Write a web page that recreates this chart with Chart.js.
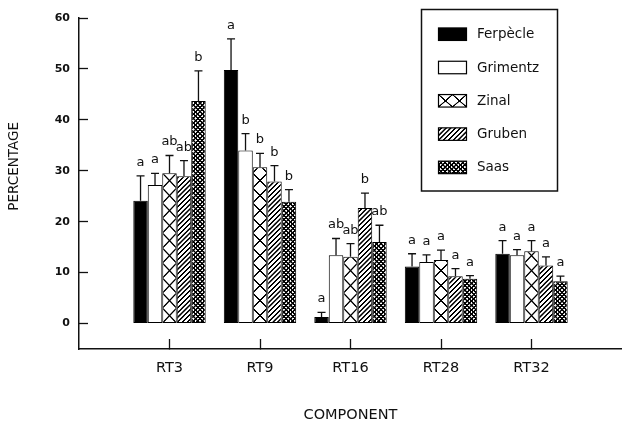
<!DOCTYPE html>
<html>
<head>
<meta charset="utf-8">
<script src="https://cdn.jsdelivr.net/npm/chart.js@4.4.1/dist/chart.umd.min.js"></script>
<style>
  html, body { margin: 0; padding: 0; background: #fff; }
</style>
</head>
<body>
<canvas id="barChart" width="622" height="424"></canvas>
<script>
// data
const categories = ['RT3', 'RT9', 'RT16', 'RT28', 'RT32'];
const siteNames = ['Ferpècle', 'Grimentz', 'Zinal', 'Gruben', 'Saas'];

const ferpecle = [24.1, 49.8, 1.3, 11.2, 13.7];
const grimentz = [27.2, 34.0, 13.4, 12.1, 13.4];
const zinal    = [29.5, 30.7, 13.1, 12.5, 14.2];
const gruben   = [28.9, 27.9, 22.7, 9.3, 11.4];
const saas     = [43.7, 23.9, 16.0, 8.8, 8.3];

// upper error (SE) above each bar
const ferpecleErr = [4.9, 6.1, 0.9, 2.5, 2.6];
const grimentzErr = [2.3, 3.3, 3.3, 1.4, 1.1];
const zinalErr    = [3.5, 2.7, 2.6, 1.9, 2.1];
const grubenErr   = [3.1, 3.1, 2.9, 1.5, 1.7];
const saasErr     = [5.9, 2.4, 3.3, 0.6, 1.0];

// significance letters
const ferpecleSig = ['a', 'a', 'a', 'a', 'a'];
const grimentzSig = ['a', 'b', 'ab', 'a', 'a'];
const zinalSig    = ['ab', 'b', 'ab', 'a', 'a'];
const grubenSig   = ['ab', 'b', 'b', 'a', 'a'];
const saasSig     = ['b', 'b', 'ab', 'a', 'a'];

const yTickValues = [0, 10, 20, 30, 40, 50, 60];

const FONT = "'DejaVu Sans', sans-serif";
const INK = '#111';

// empty slot on each side so the first/last group sit one step in from the axes
const labels = ['', ...categories, ''];
const pad = arr => [null, ...arr, null];

const ctx = document.getElementById('barChart').getContext('2d');

// ---- hatch tiles ----
function makeTile(size, lw, segs) {
    const c = document.createElement('canvas');
    c.width = size; c.height = size;
    const g = c.getContext('2d');
    g.fillStyle = '#fff';
    g.fillRect(0, 0, size, size);
    g.strokeStyle = '#000';
    g.lineWidth = lw;
    g.beginPath();
    segs.forEach(s => { g.moveTo(s[0], s[1]); g.lineTo(s[2], s[3]); });
    g.stroke();
    return c;
}
const S = 20;
const slash = [[0, S, S, 0], [-S / 2, S / 2, S / 2, -S / 2], [S / 2, 3 * S / 2, 3 * S / 2, S / 2]];
const back = [[0, 0, S, S], [S / 2, -S / 2, 3 * S / 2, S / 2], [-S / 2, S / 2, S / 2, 3 * S / 2]];
const Z = 60;
const cross = [[0, 0, Z, Z], [-Z, 0, 0, Z], [Z, 0, 2 * Z, Z], [0, Z, Z, 0], [-Z, Z, 0, 0], [Z, Z, 2 * Z, 0]];

const tiles = {
    zinal: makeTile(Z, 5.5, cross),
    gruben: makeTile(S, 6, slash),
    saas: makeTile(S, 6.5, slash.concat(back))
};

// pattern scale for a given bar width
const patternScale = {
    zinal: w => [w / Z, 15 / Z],
    gruben: () => [0.24, 0.24],
    saas: () => [0.22, 0.22]
};

function fillsFor(kind, solid) {
    return labels.map(() => kind ? ctx.createPattern(tiles[kind], 'repeat') : solid);
}

const seriesDefs = [
    { label: siteNames[0], values: ferpecle, err: ferpecleErr, sig: ferpecleSig, kind: null, solid: '#000' },
    { label: siteNames[1], values: grimentz, err: grimentzErr, sig: grimentzSig, kind: null, solid: '#fff' },
    { label: siteNames[2], values: zinal,    err: zinalErr,    sig: zinalSig,    kind: 'zinal' },
    { label: siteNames[3], values: gruben,   err: grubenErr,   sig: grubenSig,   kind: 'gruben' },
    { label: siteNames[4], values: saas,     err: saasErr,     sig: saasSig,     kind: 'saas' }
];

const datasets = seriesDefs.map(d => ({
    label: d.label,
    data: pad(d.values),
    errors: pad(d.err),
    letters: pad(d.sig),
    kind: d.kind,
    backgroundColor: fillsFor(d.kind, d.solid),
    borderColor: '#000',
    borderWidth: 1,
    borderSkipped: false,
    categoryPercentage: 0.8,
    barPercentage: 1.0
}));

// line the hatching up with each bar's bottom-left corner
const patternAlign = {
    id: 'patternAlign',
    beforeDatasetsDraw(chart) {
        chart.data.datasets.forEach((ds, i) => {
            if (!ds.kind) return;
            chart.getDatasetMeta(i).data.forEach((el, j) => {
                if (ds.data[j] == null) return;
                const p = el.getProps(['x', 'base', 'width'], true);
                const sc = patternScale[ds.kind](p.width);
                ds.backgroundColor[j].setTransform(
                    new DOMMatrix().translate(p.x - p.width / 2, p.base).scale(sc[0], sc[1]));
            });
        });
    }
};

const errorBars = {
    id: 'errorBars',
    afterDatasetsDraw(chart) {
        const c = chart.ctx;
        const y = chart.scales.y;
        c.save();
        c.strokeStyle = INK;
        c.lineWidth = 1.3;
        c.fillStyle = INK;
        c.font = '13px ' + FONT;
        c.textAlign = 'center';
        c.textBaseline = 'alphabetic';
        chart.data.datasets.forEach((ds, i) => {
            chart.getDatasetMeta(i).data.forEach((el, j) => {
                const v = ds.data[j];
                if (v == null) return;
                const top = y.getPixelForValue(v + ds.errors[j]);
                c.beginPath();
                c.moveTo(el.x, el.y);
                c.lineTo(el.x, top);
                c.moveTo(el.x - 4, top);
                c.lineTo(el.x + 4, top);
                c.stroke();
                c.fillText(ds.letters[j], el.x, top - 10);
            });
        });
        c.restore();
    }
};

// framed legend in the top right
const boxLegend = {
    id: 'boxLegend',
    afterDraw(chart) {
        const c = chart.ctx;
        c.save();
        c.strokeStyle = INK;
        c.lineWidth = 1.5;
        c.strokeRect(421.5, 9.5, 136, 181.5);
        c.font = '13.5px ' + FONT;
        c.textBaseline = 'middle';
        c.textAlign = 'left';
        chart.data.datasets.forEach((ds, i) => {
            const cy = 34.2 + i * 33.3;
            const x0 = 438.5, w = 28, h = 12.5, y0 = cy - h / 2;
            let fill = ds.backgroundColor[1];
            if (ds.kind) {
                fill = ctx.createPattern(tiles[ds.kind], 'repeat');
                const sc = ds.kind === 'zinal' ? [14 / Z, h / Z] : patternScale[ds.kind](w);
                fill.setTransform(new DOMMatrix().translate(x0, y0 + h).scale(sc[0], sc[1]));
            }
            c.fillStyle = fill;
            c.fillRect(x0, y0, w, h);
            c.lineWidth = 1.2;
            c.strokeStyle = '#000';
            c.strokeRect(x0, y0, w, h);
            c.fillStyle = INK;
            c.fillText(ds.label, 477, cy + 0.5);
        });
        c.restore();
    }
};

const myChart = new Chart(ctx, {
    type: 'bar',
    data: {
        labels: labels,
        datasets: datasets
    },
    options: {
        responsive: false,
        animation: false,
        events: [],
        layout: { padding: { top: 18, right: 0, bottom: 0, left: 0 } },
        plugins: {
            legend: { display: false },
            tooltip: { enabled: false }
        },
        scales: {
            x: {
                offset: false,
                grid: {
                    offset: false,
                    drawOnChartArea: false,
                    tickLength: -10,
                    tickWidth: 1.3,
                    tickColor: c => labels[c.index] ? INK : 'rgba(0,0,0,0)'
                },
                border: { color: INK, width: 1.5 },
                ticks: {
                    color: INK,
                    font: { family: FONT, size: 14.5 },
                    padding: 21,
                    maxRotation: 0,
                    autoSkip: false
                },
                title: {
                    display: true,
                    text: 'COMPONENT',
                    color: INK,
                    font: { family: FONT, size: 14.5 },
                    padding: { top: 0, bottom: 0 }
                },
                afterFit: s => { s.height = 75; s.paddingLeft = 0; s.paddingRight = 0; }
            },
            y: {
                min: -5,
                max: 60,
                afterBuildTicks: s => { s.ticks = yTickValues.map(v => ({ value: v })); },
                grid: {
                    drawOnChartArea: false,
                    tickLength: -9,
                    tickWidth: 1.3,
                    tickColor: INK
                },
                border: { color: INK, width: 1.5 },
                ticks: {
                    color: INK,
                    font: { family: FONT, size: 11, weight: 'bold' },
                    padding: 18
                },
                title: {
                    display: true,
                    text: '        PERCENTAGE',
                    color: INK,
                    font: { family: FONT, size: 13.5 },
                    padding: { top: 6, bottom: 0 }
                },
                afterFit: s => { s.width = 79; s.paddingTop = 0; s.paddingBottom = 0; }
            }
        }
    },
    plugins: [patternAlign, errorBars, boxLegend]
});
</script>
</body>
</html>
